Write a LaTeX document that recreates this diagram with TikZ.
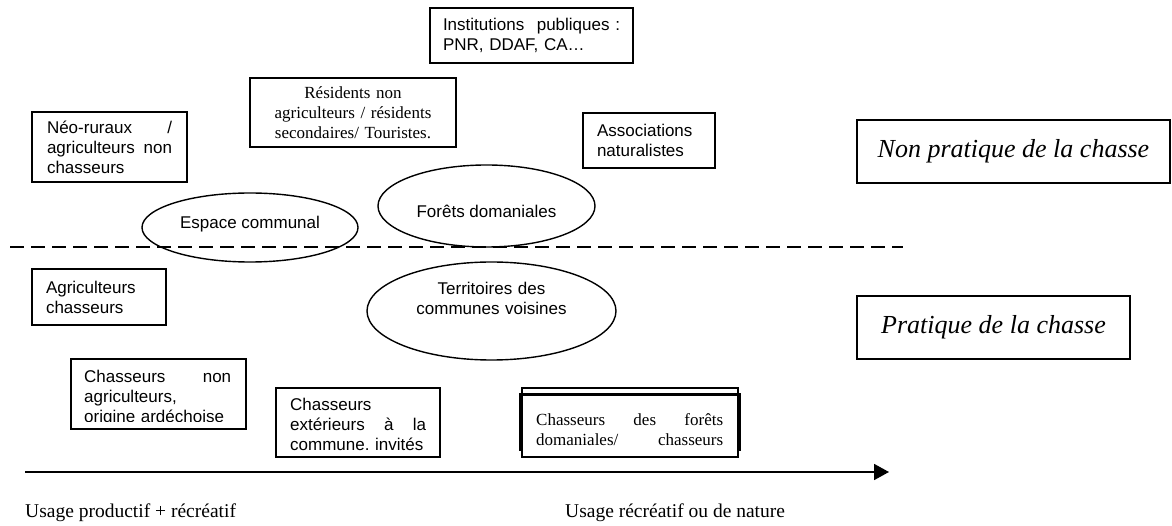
\documentclass[tikz,border=0pt]{standalone}
\usepackage{fontspec}
\setmainfont{Liberation Serif}
\newfontfamily\arialf{Liberation Sans}
\usetikzlibrary{arrows.meta,calc,shapes.geometric}
\frenchspacing
\hyphenpenalty=10000
\exhyphenpenalty=10000
\newcommand{\sansfs}{\arialf\fontsize{17}{20}\selectfont}
\newcommand{\seriffs}{\rmfamily\fontsize{17}{20}\selectfont}
\newcommand{\italfs}{\rmfamily\itshape\fontsize{26}{30}\selectfont}
\newcommand{\labfs}{\rmfamily\fontsize{19.5}{22}\selectfont}
\tikzset{
  box/.style={draw, line width=1.3pt, rectangle, inner ysep=0pt, align=left, font=\sansfs},
  sbox/.style={box, font=\seriffs, align=center},
  ibox/.style={draw, line width=1.3pt, rectangle, inner sep=0pt, font=\italfs},
  oval/.style={draw, line width=1.4pt, ellipse, inner sep=0pt},
  txt/.style={inner sep=0pt, font=\sansfs, align=left},
  stxt/.style={inner sep=0pt, font=\seriffs, align=left},
  ctxt/.style={inner sep=0pt, font=\sansfs, align=center},
  lab/.style={inner sep=0pt, font=\labfs, anchor=base west},
  divider/.style={line width=1.4pt, dash pattern=on 14pt off 7pt},
  axis/.style={line width=1.8pt, -{Triangle[length=15pt,width=16pt]}}
}
\begin{document}
\begin{tikzpicture}[x=1pt,y=-1pt]
\useasboundingbox (0,0) rectangle (1172,526);

% upper boxes
\node[box, text width=177pt, inner xsep=13pt, minimum width=203pt, minimum height=55pt] (inst) at (531.5,35.5)
  {Institutions\hfill publiques :\\PNR, DDAF, CA…};
\node[sbox, text width=190pt, inner xsep=8pt, minimum width=206pt, minimum height=69pt] (resid) at (353,112.5)
  {Résidents non\\agriculteurs / résidents\\secondaires/ Touristes.};
\node[box, text width=125pt, inner xsep=15pt, minimum width=155pt, minimum height=70pt] (neo) at (109.5,147)
  {Néo-ruraux\hfill /\\agriculteurs\hfill non\\chasseurs};
\node[box, text width=104pt, inner xsep=14pt, minimum width=132pt, minimum height=55pt] (assoc) at (649,140.5)
  {Associations\\naturalistes};

% right labels
\node[ibox, minimum width=313pt, minimum height=63pt] (nonprat) at (1013.5,151.5) {Non pratique de la chasse};
\node[ibox, minimum width=273pt, minimum height=63pt] (prat) at (993.5,327.5) {Pratique de la chasse};

% ellipses
\node[oval, minimum width=216pt, minimum height=69pt] (espace) at (250,227.5) {};
\node[ctxt, anchor=base] (espacet) at (250,229) {Espace communal};
\node[oval, minimum width=217pt, minimum height=82pt] (forets) at (486.5,206) {};
\node[ctxt, anchor=base] (forett) at (486.5,218) {Forêts domaniales};
\node[oval, minimum width=249pt, minimum height=98pt] (terr) at (491.5,311) {};
\node[ctxt, anchor=base, text width=220pt] (terrt) at (491.5,295) {Territoires des\\communes voisines};

% dashed divider
\coordinate (dA) at (10,247);
\coordinate (dB) at (903,247);
\draw[divider] (dA) -- (dB);

% lower boxes
\node[box, text width=106pt, inner xsep=14pt, minimum width=134pt, minimum height=56pt] (agri) at (99,297)
  {Agriculteurs\\chasseurs};

\node[box, minimum width=175pt, minimum height=70pt] (cna) at (158.5,394) {};
\begin{scope}
  \clip (71,359) rectangle (246,421.5);
  \node[txt, anchor=base west, text width=147pt] (cnat) at (84,382)
    {Chasseurs\hfill non\\agriculteurs,\\origine ardéchoise};
\end{scope}

\node[box, minimum width=164pt, minimum height=69pt] (cext) at (358,422.5) {};
\node[txt, anchor=base west, text width=136pt] (cextt) at (290,410)
  {Chasseurs\\extérieurs\hfill à\hfill la\\commune. invités};

\node[draw, line width=1.3pt, rectangle, minimum width=216pt, minimum height=69pt, inner sep=0pt] (cdf) at (630,422.5) {};
\draw[line width=2.4pt] ($(cdf.south west)+(-1,-7)$) -- ($(cdf.north west)+(-1,7)$)
  -- ($(cdf.north east)+(1,7)$) -- ($(cdf.south east)+(1,-7)$);
\node[stxt, anchor=base west, text width=187pt] (cdft) at (536,425)
  {Chasseurs\hfill des\hfill forêts\\domaniales/\hfill chasseurs};

% axis
\coordinate (aS) at (25,472);
\coordinate (aE) at (889,472);
\draw[axis] (aS) -- (aE);

\node[lab] (l1) at (25,517) {Usage productif + récréatif};
\node[lab] (l2) at (565,517) {Usage récréatif ou de nature};
\end{tikzpicture}
\end{document}
